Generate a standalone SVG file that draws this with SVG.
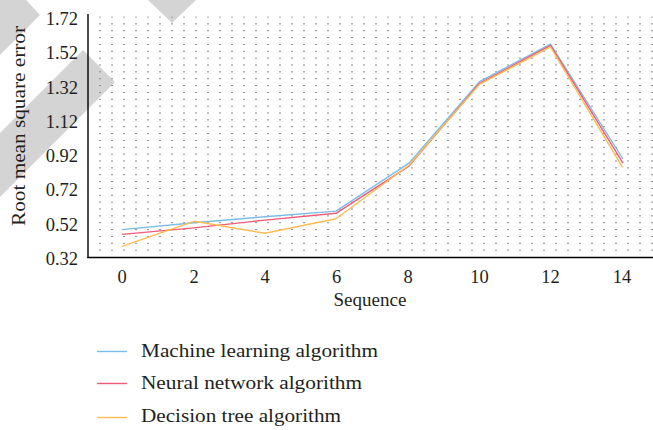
<svg xmlns="http://www.w3.org/2000/svg" width="653" height="430" viewBox="0 0 653 430">
<style>
text{font-family:"Liberation Serif","Times New Roman",serif;fill:#231f20}
.tick{font-size:18.5px}
.ytick{text-anchor:end}
.xtick{text-anchor:middle}
.series{fill:none;stroke-width:1.4;stroke-linejoin:round}
.ml{stroke:#7bbde6}
.nn{stroke:#ef5b76}
.dt{stroke:#fcbc52}
.axis{stroke:#000;stroke-width:1.4;fill:none}
.wm{fill:#d4d4d4}
</style>
<defs>
<pattern id="dots" patternUnits="userSpaceOnUse" x="99" y="16.5" width="12" height="6.857">
<rect x="0" y="0" width="2" height="1" fill="#8a8a8a"/>
</pattern>
</defs>
<rect width="653" height="430" fill="#fff"/>
<g id="watermark">
<polygon class="wm" points="0,0 26,0 40,15 0,55"/>
<polygon class="wm" points="148,0 196,0 172,23"/>
<polygon class="wm" points="83,50 115,82 0,197 0,133"/>
</g>
<g id="grid">
<rect x="99" y="16.5" width="554" height="236" fill="url(#dots)"/>
</g>
<g id="axes">
<line class="axis" x1="88" y1="14" x2="88" y2="258"/>
<line class="axis" x1="87.3" y1="257.5" x2="653" y2="257.5"/>
</g>
<g id="y-ticks" class="tick ytick">
<text x="78" y="25">1.72</text>
<text x="78" y="59.3">1.52</text>
<text x="78" y="93.6">1.32</text>
<text x="78" y="127.9">1.12</text>
<text x="78" y="162.1">0.92</text>
<text x="78" y="196.4">0.72</text>
<text x="78" y="230.7">0.52</text>
<text x="78" y="265">0.32</text>
</g>
<g id="x-ticks" class="tick xtick">
<text x="122" y="283">0</text>
<text x="194" y="283">2</text>
<text x="265" y="283">4</text>
<text x="336.5" y="283">6</text>
<text x="408" y="283">8</text>
<text x="479.5" y="283">10</text>
<text x="550.5" y="283">12</text>
<text x="622" y="283">14</text>
</g>
<text id="x-title" x="370" y="306" font-size="18" text-anchor="middle" textLength="73" lengthAdjust="spacingAndGlyphs">Sequence</text>
<text id="y-title" transform="translate(25,126) rotate(-90)" font-size="18" text-anchor="middle" textLength="200" lengthAdjust="spacingAndGlyphs">Root mean square error</text>
<g id="connectors">
<polyline id="s-ml" class="series ml" points="122,229.6 194,222.7 265,216.7 336,211.1 409,163.2 479.5,81.6 550.5,44.1 623,159"/>
<polyline id="s-nn" class="series nn" points="122,234.4 194,227.9 265,220.1 336,213.3 409,166.1 479.5,83.3 550.5,45.3 623,163.2"/>
<polyline id="s-dt" class="series dt" points="122,246.4 194,221.3 265,233.3 336,218.8 409,165.3 479.5,84.4 550.5,47 622.5,167.3"/>
</g>
<g id="legend">
<g id="legend-ml">
<line class="series ml" x1="97" y1="351.5" x2="127" y2="351.5"/>
<text x="141" y="357" font-size="19" textLength="237" lengthAdjust="spacingAndGlyphs">Machine learning algorithm</text>
</g>
<g id="legend-nn">
<line class="series nn" x1="97" y1="383.5" x2="127" y2="383.5"/>
<text x="141" y="389" font-size="19" textLength="221" lengthAdjust="spacingAndGlyphs">Neural network algorithm</text>
</g>
<g id="legend-dt">
<line class="series dt" x1="97" y1="417.5" x2="127" y2="417.5"/>
<text x="141" y="422" font-size="19" textLength="200" lengthAdjust="spacingAndGlyphs">Decision tree algorithm</text>
</g>
</g>
</svg>
